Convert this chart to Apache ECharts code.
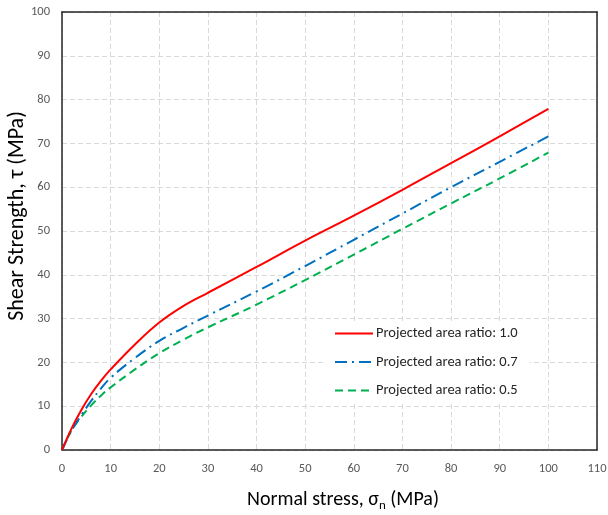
<!DOCTYPE html>
<html><head><meta charset="utf-8">
<script src="https://cdn.jsdelivr.net/npm/echarts@6/dist/echarts.min.js"></script>
<style>html,body{margin:0;padding:0;background:#fff}#c{width:608px;height:515px}</style>
</head><body><div id="c"></div>
<script>
const xRed = [0, 2, 4, 6, 8, 10, 15, 20, 25, 30, 40, 50, 60, 70, 80, 90, 100];
const yRed = [0, 5, 9.2, 12.8, 15.8, 18.4, 24.1, 29.1, 32.9, 35.9, 41.8, 47.8, 53.5, 59.4, 65.5, 71.6, 77.9];
const xBlue = [0, 2, 4, 6, 8, 10, 15, 20, 25, 30, 40, 50, 60, 70, 80, 90, 100];
const yBlue = [0, 4.5, 8, 11.2, 14, 16.5, 21, 24.9, 27.9, 30.7, 36.2, 42, 48, 54, 60, 65.8, 71.6];
const xGreen = [0, 2, 4, 6, 8, 10, 15, 20, 25, 30, 40, 50, 60, 70, 80, 90, 100];
const yGreen = [0, 4.5, 7.6, 10.2, 12.4, 14.3, 18.4, 22.1, 25.2, 28, 33.2, 38.8, 44.6, 50.5, 56.3, 62, 67.9];
const names = ['Projected area ratio: 1.0', 'Projected area ratio: 0.7', 'Projected area ratio: 0.5'];

const pair = (xs, ys) => xs.map((x, i) => [x, ys[i]]);
const chart = echarts.init(document.getElementById('c'), null, {renderer: 'canvas'});
const font = 'Calibri, Carlito, "Liberation Sans", sans-serif';
const frameAxis = {
  axisLine: {show: true, onZero: false, lineStyle: {color: '#262626', width: 1.5}},
  axisTick: {show: false}, axisLabel: {show: false}, splitLine: {show: false}
};
chart.setOption({
  animation: false,
  grid: {left: 62, top: 12, width: 535, height: 438, outerBoundsMode: 'none', containLabel: false, show: false},
  xAxis: [{
    type: 'value', min: 0, max: 110, interval: 10,
    axisLine: {show: true, lineStyle: {color: '#262626', width: 1.5}},
    axisTick: {show: false},
    axisLabel: {color: '#595959', fontSize: 12.5, fontFamily: font, margin: 12},
    splitLine: {show: true, lineStyle: {color: '#d9d9d9', type: [5, 3], width: 1}},
    name: '{a|Normal stress, σ}{s|n}{a| (MPa)}', nameLocation: 'middle', nameGap: 37, nameMoveOverlap: false,
    nameTextStyle: {padding: [0, 0, 0, 27], rich: {a: {fontSize: 20, color: '#000', fontFamily: font}, s: {fontSize: 13, color: '#000', fontFamily: font, verticalAlign: 'bottom', padding: [12, 0, 0, 0]}}}
  }, Object.assign({type: 'value', min: 0, max: 110, position: 'top'}, frameAxis)],
  yAxis: [{
    type: 'value', min: 0, max: 100, interval: 10,
    axisLine: {show: true, lineStyle: {color: '#262626', width: 1.5}},
    axisTick: {show: false},
    axisLabel: {color: '#595959', fontSize: 12.5, fontFamily: font, margin: 12},
    splitLine: {show: true, lineStyle: {color: '#d9d9d9', type: [5, 3], width: 1}},
    name: 'Shear Strength, τ (MPa)', nameLocation: 'middle', nameGap: 34, nameMoveOverlap: false,
    nameTextStyle: {fontSize: 22, color: '#000', fontFamily: font, padding: [0, 0, 0, 30]}
  }, Object.assign({type: 'value', min: 0, max: 100, position: 'right'}, frameAxis)],
  legend: {
    left: 324, top: 322, orient: 'vertical', itemGap: 13.5,
    itemWidth: 38, itemHeight: 14,
    backgroundColor: '#fff', padding: [4, 12, 6, 10],
    itemStyle: {opacity: 0},
    textStyle: {fontSize: 14.5, color: '#262626', fontFamily: font, padding: [0, 0, 0, -2]},
    data: names
  },
  series: [
    {name: names[0], type: 'line', smooth: 0.4, showSymbol: false, symbol: 'none', data: pair(xRed, yRed),
     lineStyle: {color: '#ff0000', width: 2}, itemStyle: {color: '#ff0000'}, z: 4},
    {name: names[1], type: 'line', smooth: 0.4, showSymbol: false, symbol: 'none', data: pair(xBlue, yBlue),
     lineStyle: {color: '#0070c0', width: 2, type: [12, 5, 2, 5]}, itemStyle: {color: '#0070c0'}, z: 3},
    {name: names[2], type: 'line', smooth: 0.4, showSymbol: false, symbol: 'none', data: pair(xGreen, yGreen),
     lineStyle: {color: '#00b050', width: 2, type: [8, 5]}, itemStyle: {color: '#00b050'}, z: 2}
  ]
});
</script></body></html>
